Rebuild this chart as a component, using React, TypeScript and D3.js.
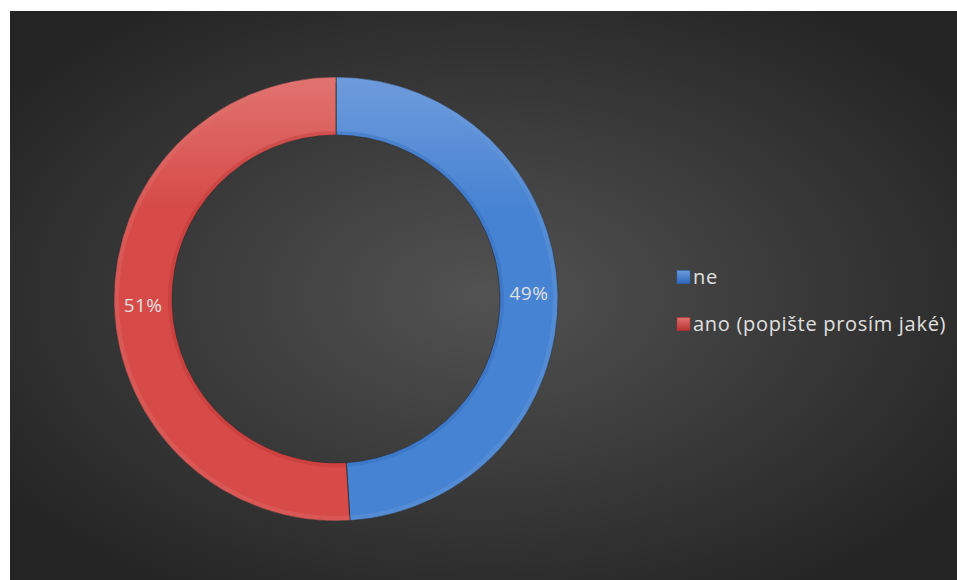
import * as d3 from 'd3';

const categories = ['ne', 'ano (popište prosím jaké)'];
const values = [49, 51];
const colors = ['#4683d2', '#d64a47'];
const lightColors = ['#6e9bdc', '#e07370'];
const darkColors = ['#2d68b8', '#b83230'];

const width = 957;
const height = 580;

export default function App() {
    const cx = 336;
    const cy = 299;
    const outerR = 222;
    const innerR = 164;

    const pie = d3
        .pie<number>()
        .sort(null)
        .value((d) => d);
    const arcs = pie(values);

    const arc = d3.arc<d3.PieArcDatum<number>>().innerRadius(innerR).outerRadius(outerR);
    const bevelOuter = d3
        .arc<d3.PieArcDatum<number>>()
        .innerRadius(outerR - 5)
        .outerRadius(outerR);
    const bevelInner = d3
        .arc<d3.PieArcDatum<number>>()
        .innerRadius(innerR)
        .outerRadius(innerR + 4);
    const labelArc = d3
        .arc<d3.PieArcDatum<number>>()
        .innerRadius((innerR + outerR) / 2)
        .outerRadius((innerR + outerR) / 2);

    const total = d3.sum(values);
    const pct = d3.format('.0%');

    const legendX = 677;
    const legendY = d3.scalePoint<string>().domain(categories).range([277, 324]);

    const font = '"Open Sans", sans-serif';

    return (
        <svg
            width={width}
            height={height}
            style={{position: 'absolute', left: 0, top: 0}}
        >
            <defs>
                <radialGradient id="bg" cx="50%" cy="50%" r="62%">
                    <stop offset="0%" stopColor="#525252" />
                    <stop offset="100%" stopColor="#242424" />
                </radialGradient>
                {colors.map((c, i) => (
                    <linearGradient
                        key={i}
                        id={`slice${i}`}
                        gradientUnits="userSpaceOnUse"
                        x1={0}
                        y1={-outerR}
                        x2={0}
                        y2={outerR}
                    >
                        <stop offset="0%" stopColor={lightColors[i]} />
                        <stop offset="30%" stopColor={c} />
                        <stop offset="100%" stopColor={c} />
                    </linearGradient>
                ))}
                {colors.map((c, i) => (
                    <linearGradient key={`l${i}`} id={`leg${i}`} x1="0" y1="0" x2="0" y2="1">
                        <stop offset="0%" stopColor={lightColors[i]} />
                        <stop offset="100%" stopColor={darkColors[i]} />
                    </linearGradient>
                ))}
            </defs>

            <rect x={10} y={11} width={width - 10} height={height - 11} fill="url(#bg)" />

            <g transform={`translate(${cx},${cy})`}>
                {arcs.map((a, i) => (
                    <g key={i}>
                        <path
                            d={arc(a) ?? ''}
                            fill={`url(#slice${i})`}
                            stroke="#2e2e2e"
                            strokeWidth={0.8}
                        />
                        <path d={bevelOuter(a) ?? ''} fill={lightColors[i]} opacity={0.35} />
                        <path d={bevelInner(a) ?? ''} fill={darkColors[i]} opacity={0.35} />
                    </g>
                ))}
                {arcs.map((a, i) => {
                    const [lx, ly] = labelArc.centroid(a);
                    return (
                        <text
                            key={`t${i}`}
                            x={lx}
                            y={ly}
                            dy="0.35em"
                            textAnchor="middle"
                            fill="#e0e0e0"
                            fontFamily={font}
                            fontSize={19}
                            letterSpacing={0.5}
                        >
                            {pct(a.data / total)}
                        </text>
                    );
                })}
            </g>

            {categories.map((c, i) => (
                <g key={c} transform={`translate(${legendX},${legendY(c)})`}>
                    <rect
                        x={0}
                        y={-6.5}
                        width={13}
                        height={13}
                        fill={`url(#leg${i})`}
                        stroke={darkColors[i]}
                        strokeWidth={0.6}
                    />
                    <text
                        x={16}
                        y={0}
                        dy="0.35em"
                        fill="#e0e0e0"
                        fontFamily={font}
                        fontSize={20}
                        letterSpacing={0.7}
                    >
                        {c}
                    </text>
                </g>
            ))}
        </svg>
    );
}
